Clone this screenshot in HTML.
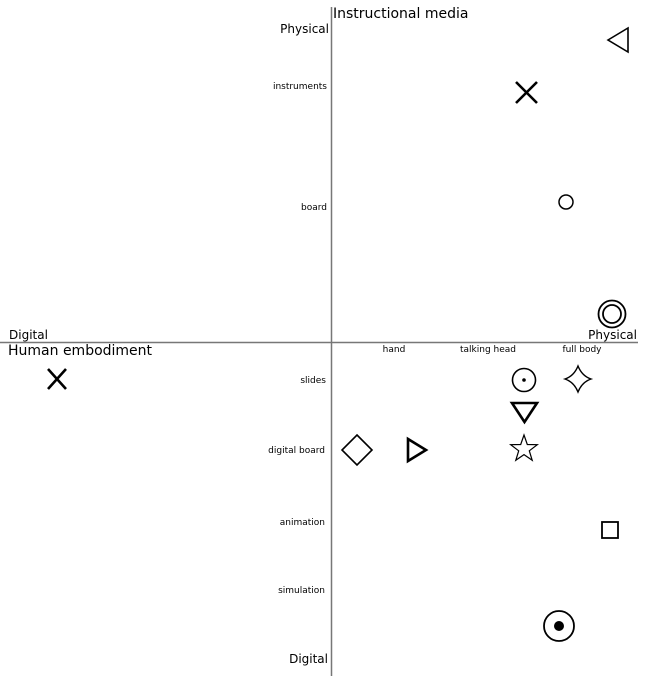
<!DOCTYPE html>
<html><head><meta charset="utf-8"><style>
html,body{margin:0;padding:0;background:#fff;}
svg{display:block;}
text{font-family:"DejaVu Sans","Liberation Sans",sans-serif;fill:#000;}
</style></head><body>
<svg width="648" height="683" viewBox="0 0 648 683" xmlns="http://www.w3.org/2000/svg">
<line x1="331.5" y1="7" x2="331.5" y2="676" stroke="#777" stroke-width="1.5"/>
<line x1="0" y1="342.5" x2="638" y2="342.5" stroke="#777" stroke-width="1.5"/>
<text x="333" y="18" font-size="14">Instructional media</text>
<text x="329" y="33" font-size="12" text-anchor="end">Physical</text>
<text x="327" y="89" font-size="9" text-anchor="end">instruments</text>
<text x="327" y="210" font-size="9" text-anchor="end">board</text>
<text x="9" y="339" font-size="12">Digital</text>
<text x="637" y="339" font-size="12" text-anchor="end">Physical</text>
<text x="8" y="355" font-size="14">Human embodiment</text>
<text x="394" y="352" font-size="9" text-anchor="middle">hand</text>
<text x="488" y="352" font-size="9" text-anchor="middle">talking head</text>
<text x="582" y="352" font-size="9" text-anchor="middle">full body</text>
<text x="326" y="383" font-size="9" text-anchor="end">slides</text>
<text x="325" y="453" font-size="9" text-anchor="end">digital board</text>
<text x="325" y="525" font-size="9" text-anchor="end">animation</text>
<text x="325" y="593" font-size="9" text-anchor="end">simulation</text>
<text x="328" y="663" font-size="12" text-anchor="end">Digital</text>
<g fill="none" stroke="#000">
<polygon points="608,40 628,28 628,52" stroke-width="1.6"/>
<path d="M516,82 L537,103 M537,82 L516,103" stroke-width="2.6"/>
<circle cx="566" cy="202" r="7" stroke-width="1.5"/>
<circle cx="612" cy="314" r="13.5" stroke-width="1.8"/>
<circle cx="612" cy="314" r="9" stroke-width="1.8"/>
<path d="M48,369 L66,389 M66,369 L48,389" stroke-width="2.6"/>
<circle cx="524" cy="380" r="11.5" stroke-width="1.6"/>
<path d="M578,366 Q582,376 591,379 Q582,382 578,392 Q574,382 565,379 Q574,376 578,366 Z" stroke-width="1.4"/>
<polygon points="512,403 537,403 524.5,422" stroke-width="2.6"/>
<polygon points="524,435 527.3,444.5 537.3,444.7 529.3,450.8 532.2,460.3 524,454.6 515.8,460.3 518.7,450.8 510.7,444.7 520.7,444.5" stroke-width="1.2"/>
<polygon points="357,435 372,450 357,465 342,450" stroke-width="1.6"/>
<polygon points="408,439 408,461 426,450" stroke-width="2.6"/>
<rect x="602" y="522" width="16" height="16" stroke-width="1.8"/>
<circle cx="559" cy="626" r="15" stroke-width="1.8"/>
</g>
<circle cx="524" cy="380" r="1.8" fill="#000"/>
<circle cx="559" cy="626" r="5" fill="#000"/>
</svg>
</body></html>
